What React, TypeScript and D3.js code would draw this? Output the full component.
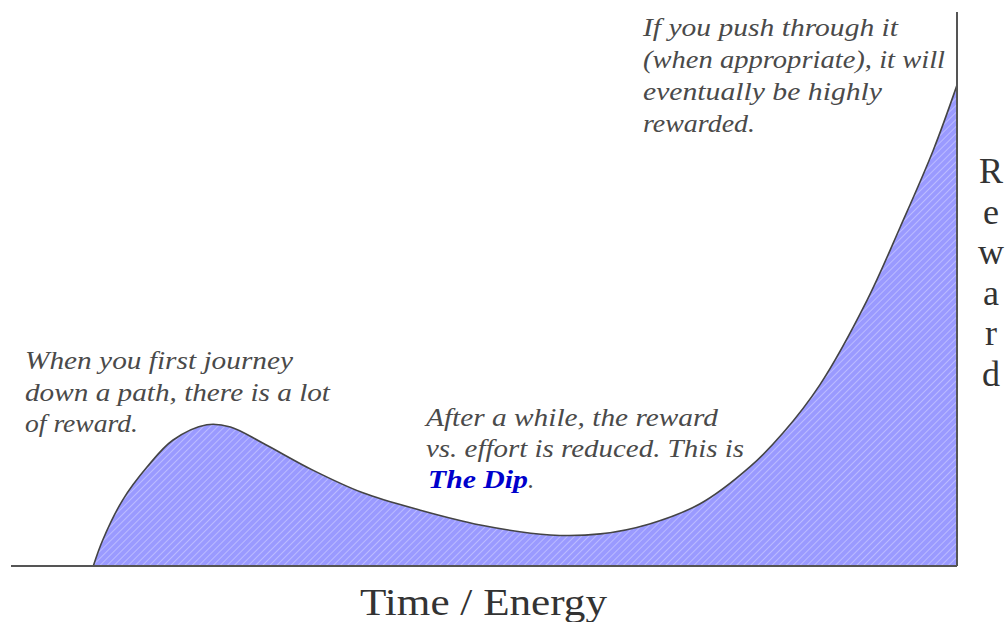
import React from "react";
import * as d3 from "d3";

// Time / Energy (0-100) vs Reward (0-100)
const time = [8.7, 9.7, 11.8, 14.4, 17.1, 20.7, 23.2, 26.6, 31.9, 37.2, 43.2, 49.6, 57.0, 62.3, 67.5, 72.8, 78.1, 81.6, 85.5, 90.5, 94.0, 97.5, 100];
const reward = [0, 4.7, 11.9, 17.9, 22.7, 25.5, 25.1, 22.2, 17.3, 13.2, 10.1, 7.4, 5.6, 5.8, 7.6, 11.2, 17.9, 24.0, 32.7, 48.0, 61.2, 75.1, 86.8];

const xLabel = "Time / Energy";
const yLabelLetters = ["R", "e", "w", "a", "r", "d"];

const note1 = ["When you first journey", "down a path, there is a lot", "of reward."];
const note1Widths = [268, 305, 113];
const note2 = ["After a while, the reward", "vs. effort is reduced. This is"];
const note2Widths = [292, 318];
const note3 = ["If you push through it", "(when appropriate), it will", "eventually be highly", "rewarded."];
const note3Widths = [255, 302, 239, 112];

const W = 1005;
const H = 622;

export default function App() {
  const x = d3.scaleLinear().domain([0, 100]).range([11, 957]);
  const y = d3.scaleLinear().domain([0, 100]).range([566, 12]);
  const pts = time.map((t, i) => [t, reward[i]] as [number, number]);
  const curve = d3.curveCatmullRom.alpha(0.5);
  const area = d3
    .area<[number, number]>()
    .x((d) => x(d[0]))
    .y0(y(0))
    .y1((d) => y(d[1]))
    .curve(curve);
  const line = d3
    .line<[number, number]>()
    .x((d) => x(d[0]))
    .y((d) => y(d[1]))
    .curve(curve);

  const serif = "Liberation Serif, Times New Roman, serif";
  const noteStyle = { fontFamily: serif, fontStyle: "italic" as const, fontSize: 25, fill: "#4a4a4a" };

  return (
    <svg width={W} height={H} style={{ position: "absolute", left: 0, top: 0, background: "#fff" }}>
      <defs>
        <pattern id="hatch" width="5" height="5" patternUnits="userSpaceOnUse" patternTransform="rotate(45)">
          <rect width="5" height="5" fill="#9a9aff" />
          <line x1="0" y1="0" x2="0" y2="5" stroke="#ffffff" strokeOpacity={0.55} strokeWidth={1.2} />
        </pattern>
      </defs>
      <path d={area(pts) || ""} fill="url(#hatch)" />
      <path d={line(pts) || ""} fill="none" stroke="#444" strokeWidth={1.6} />
      <line x1={x(0)} x2={x(100)} y1={y(0)} y2={y(0)} stroke="#555" strokeWidth={2} />
      <line x1={x(100)} x2={x(100)} y1={y(0)} y2={y(100)} stroke="#555" strokeWidth={2} />
      <text x={360} y={615} fontFamily={serif} fontSize={38} fill="#333" textLength={247} lengthAdjust="spacingAndGlyphs">
        {xLabel}
      </text>
      {yLabelLetters.map((c, i) => (
        <text key={i} x={991} y={183 + i * 40.5} textAnchor="middle" fontFamily={serif} fontSize={36} fill="#333">
          {c}
        </text>
      ))}
      {note1.map((s, i) => (
        <text key={i} x={25} y={369 + i * 31.5} {...noteStyle} textLength={note1Widths[i]} lengthAdjust="spacingAndGlyphs">
          {s}
        </text>
      ))}
      {note2.map((s, i) => (
        <text key={i} x={426} y={426 + i * 31} {...noteStyle} textLength={note2Widths[i]} lengthAdjust="spacingAndGlyphs">
          {s}
        </text>
      ))}
      <text x={428} y={488} {...noteStyle}>
        <tspan fill="#0000cc" fontWeight="bold" textLength={100} lengthAdjust="spacingAndGlyphs">The Dip</tspan>
        <tspan>.</tspan>
      </text>
      {note3.map((s, i) => (
        <text key={i} x={643} y={36 + i * 32} {...noteStyle} textLength={note3Widths[i]} lengthAdjust="spacingAndGlyphs">
          {s}
        </text>
      ))}
    </svg>
  );
}
